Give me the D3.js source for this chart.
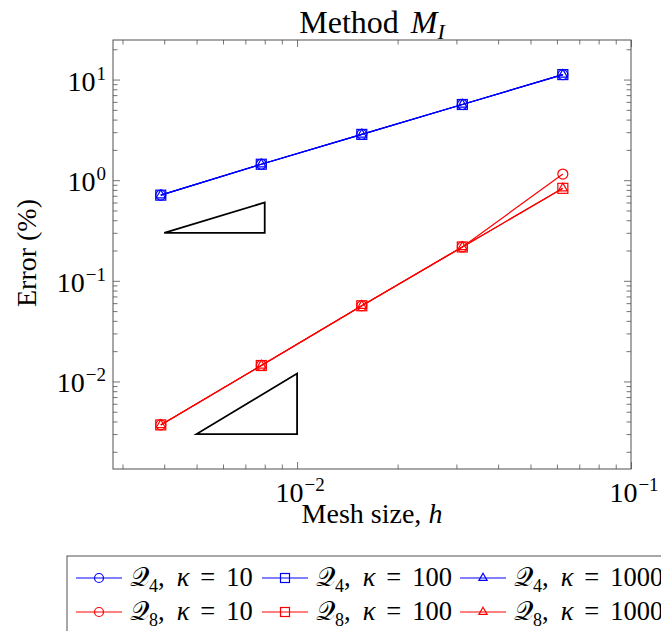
<!DOCTYPE html>
<html>
<head>
<meta charset="utf-8">
<script src="https://cdn.jsdelivr.net/npm/d3@7"></script>
<style>
  body { margin: 0; background: #fff; }
  svg { display: block; font-family: 'Liberation Serif', serif; }
</style>
</head>
<body>
<div id="app"></div>
<script>
// mesh sizes h and error (%) per series
const meshSize = [1/256, 1/128, 1/64, 1/32, 1/16]
const q4k10 = [0.71, 1.44, 2.85, 5.65, 11.2]
const q4k100 = [0.71, 1.44, 2.85, 5.65, 11.2]
const q4k1000 = [0.71, 1.44, 2.85, 5.65, 11.2]
const q8k10 = [0.0037, 0.0144, 0.0565, 0.217, 1.15]
const q8k100 = [0.0037, 0.0144, 0.0565, 0.217, 0.83]
const q8k1000 = [0.0037, 0.0144, 0.0565, 0.217, 0.83]

// slope triangles (h, error)
const slopeOne = [[0.004, 0.3], [0.008, 0.3], [0.008, 0.6]]
const slopeTwo = [[0.005, 0.003], [0.01, 0.003], [0.01, 0.012]]

const xMajorExp = [-2, -1]
const yMajorExp = [-2, -1, 0, 1]

const series = [
  {q: '4', kappa: '10', values: q4k10, color: '#0000ff', mark: 'circle'},
  {q: '4', kappa: '100', values: q4k100, color: '#0000ff', mark: 'square'},
  {q: '4', kappa: '1000', values: q4k1000, color: '#0000ff', mark: 'triangle'},
  {q: '8', kappa: '10', values: q8k10, color: '#ff0000', mark: 'circle'},
  {q: '8', kappa: '100', values: q8k100, color: '#ff0000', mark: 'square'},
  {q: '8', kappa: '1000', values: q8k1000, color: '#ff0000', mark: 'triangle'}
]

const w = 661, h = 631
const padLeft = 113, padRight = 631, padTop = 40, padBottom = 469

const svg = d3.select('#app').append('svg')
  .attr('width', w).attr('height', h)

const xScale = d3.scaleLog().domain([0.00281, 0.1]).range([padLeft, padRight])
const yScale = d3.scaleLog().domain([10 ** -2.87, 10 ** 1.393]).range([padBottom, padTop])

// minor tick values
const xMinor = []
for (let e = -3; e <= -2; e++) for (let m = 2; m <= 9; m++) {
  const v = m * 10 ** e
  if (v >= 0.00281 && v <= 0.1) xMinor.push(v)
}
const yMinor = []
for (let e = -3; e <= 1; e++) for (let m = 2; m <= 9; m++) {
  const v = m * 10 ** e
  if (v >= 10 ** -2.87 && v <= 10 ** 1.393) yMinor.push(v)
}
const xMajor = xMajorExp.map(e => 10 ** e)
const yMajor = yMajorExp.map(e => 10 ** e)

const tickColor = '#505050'
function styleAxis(g) {
  g.select('.domain').remove()
  g.selectAll('line').attr('stroke', tickColor).attr('stroke-width', 0.8)
}
// inward ticks on all four sides
svg.append('g').attr('transform', 'translate(0,' + padBottom + ')')
  .call(d3.axisBottom(xScale).tickValues(xMajor).tickSize(-7).tickFormat('')).call(styleAxis)
svg.append('g').attr('transform', 'translate(0,' + padBottom + ')')
  .call(d3.axisBottom(xScale).tickValues(xMinor).tickSize(-4.5).tickFormat('')).call(styleAxis)
svg.append('g').attr('transform', 'translate(0,' + padTop + ')')
  .call(d3.axisTop(xScale).tickValues(xMajor).tickSize(-7).tickFormat('')).call(styleAxis)
svg.append('g').attr('transform', 'translate(0,' + padTop + ')')
  .call(d3.axisTop(xScale).tickValues(xMinor).tickSize(-4.5).tickFormat('')).call(styleAxis)
svg.append('g').attr('transform', 'translate(' + padLeft + ',0)')
  .call(d3.axisLeft(yScale).tickValues(yMajor).tickSize(-7).tickFormat('')).call(styleAxis)
svg.append('g').attr('transform', 'translate(' + padLeft + ',0)')
  .call(d3.axisLeft(yScale).tickValues(yMinor).tickSize(-4.5).tickFormat('')).call(styleAxis)
svg.append('g').attr('transform', 'translate(' + padRight + ',0)')
  .call(d3.axisRight(yScale).tickValues(yMajor).tickSize(-7).tickFormat('')).call(styleAxis)
svg.append('g').attr('transform', 'translate(' + padRight + ',0)')
  .call(d3.axisRight(yScale).tickValues(yMinor).tickSize(-4.5).tickFormat('')).call(styleAxis)

svg.append('rect')
  .attr('x', padLeft).attr('y', padTop)
  .attr('width', padRight - padLeft).attr('height', padBottom - padTop)
  .attr('fill', 'none').attr('stroke', tickColor).attr('stroke-width', 1)

// tick labels 10^e
function powerLabel(sel, e) {
  sel.append('tspan').text('10')
  sel.append('tspan').text(e < 0 ? '\u2212' + (-e) : e)
    .attr('font-size', 19).attr('dy', -11).attr('dx', 1)
}
xMajorExp.forEach(e => {
  svg.append('text')
    .attr('x', xScale(10 ** e) + 3).attr('y', 502)
    .attr('text-anchor', 'middle').attr('font-size', 28)
    .call(powerLabel, e)
})
yMajorExp.forEach(e => {
  svg.append('text')
    .attr('x', 106).attr('y', yScale(10 ** e) + 11)
    .attr('text-anchor', 'end').attr('font-size', 28)
    .call(powerLabel, e)
})

// title and axis labels
const title = svg.append('text')
  .attr('x', (padLeft + padRight) / 2).attr('y', 33)
  .attr('text-anchor', 'middle').attr('font-size', 32)
title.append('tspan').text('Method')
title.append('tspan').text('M').attr('font-style', 'italic').attr('dx', 12)
title.append('tspan').text('I').attr('font-style', 'italic')
  .attr('font-size', 22).attr('dy', 6)

const xLabel = svg.append('text')
  .attr('x', (padLeft + padRight) / 2).attr('y', 523)
  .attr('text-anchor', 'middle').attr('font-size', 28)
xLabel.append('tspan').text('Mesh size, ')
xLabel.append('tspan').text('h').attr('font-style', 'italic')

svg.append('text')
  .attr('transform', 'translate(36,' + 253 + ') rotate(-90)')
  .attr('text-anchor', 'middle').attr('font-size', 28)
  .text('Error (%)')

// slope triangles
const line = d3.line().x(d => xScale(d[0])).y(d => yScale(d[1]))
;[slopeOne, slopeTwo].forEach(t => {
  svg.append('path')
    .attr('d', line(t) + 'Z')
    .attr('fill', 'none').attr('stroke', '#000').attr('stroke-width', 1.8)
})

// markers
function drawMark(g, type, x, y, color, size) {
  if (type === 'circle') {
    g.append('circle').attr('cx', x).attr('cy', y).attr('r', size)
      .attr('fill', 'none').attr('stroke', color).attr('stroke-width', 1.2)
  } else if (type === 'square') {
    g.append('rect').attr('x', x - size).attr('y', y - size)
      .attr('width', size * 2).attr('height', size * 2)
      .attr('fill', 'none').attr('stroke', color).attr('stroke-width', 1.2)
  } else {
    const r = size * 1.05
    g.append('path')
      .attr('d', 'M' + x + ',' + (y - r) + 'L' + (x + r * 0.87) + ',' + (y + r * 0.5) +
        'L' + (x - r * 0.87) + ',' + (y + r * 0.5) + 'Z')
      .attr('fill', 'none').attr('stroke', color).attr('stroke-width', 1.2)
  }
}

const dataLine = d3.line().x(d => xScale(d[0])).y(d => yScale(d[1]))
series.forEach(s => {
  const pts = meshSize.map((m, i) => [m, s.values[i]])
  svg.append('path').attr('d', dataLine(pts))
    .attr('fill', 'none').attr('stroke', s.color).attr('stroke-width', 1.2)
  const g = svg.append('g')
  pts.forEach(p => drawMark(g, s.mark, xScale(p[0]), yScale(p[1]), s.color, 5))
})

// legend
const legTop = 556, legLeft = 67
svg.append('rect')
  .attr('x', legLeft).attr('y', legTop)
  .attr('width', 700).attr('height', 100)
  .attr('fill', 'none').attr('stroke', tickColor).attr('stroke-width', 1)

const colX = [76, 262, 460]
series.forEach((s, i) => {
  const col = i % 3, row = Math.floor(i / 3)
  const x0 = colX[col], cy = legTop + 22 + row * 34
  const g = svg.append('g')
  g.append('line').attr('x1', x0).attr('x2', x0 + 46).attr('y1', cy).attr('y2', cy)
    .attr('stroke', s.color).attr('stroke-width', 1)
  drawMark(g, s.mark, x0 + 23, cy, s.color, 4.5)
  const t = g.append('text').attr('x', x0 + 54).attr('y', cy + 8).attr('font-size', 26.5)
  t.append('tspan').text('\u{1D4AC}')
  t.append('tspan').text(s.q).attr('font-size', 18).attr('dy', 6)
  t.append('tspan').text(',').attr('dy', -6)
  t.append('tspan').text('\u03BA').attr('font-style', 'italic').attr('dx', 12)
  t.append('tspan').text('=').attr('dx', 11)
  t.append('tspan').text(s.kappa).attr('dx', 11)
})
</script>
</body>
</html>
